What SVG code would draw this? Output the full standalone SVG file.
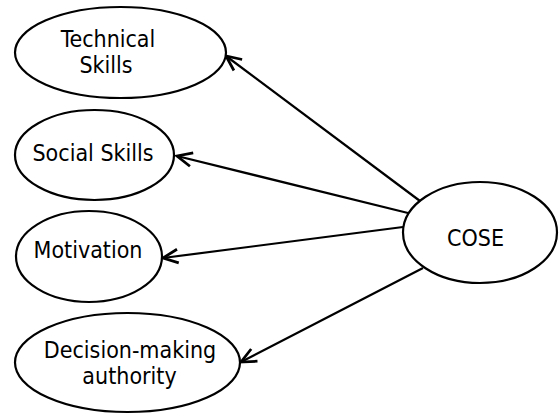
<svg xmlns="http://www.w3.org/2000/svg" width="559" height="414" viewBox="0 0 559 414">
<style>
.n{fill:#fff;stroke:#000;stroke-width:2.2}
.t{font-family:"DejaVu Sans Condensed","DejaVu Sans",sans-serif;font-stretch:condensed;font-size:23px;fill:#000;text-anchor:middle}
.c{stroke:#000;stroke-width:2.2;fill:none}
</style>
<defs>
<marker id="a" markerUnits="userSpaceOnUse" markerWidth="20" markerHeight="20" viewBox="-14 -8 16 16" refX="0" refY="0" orient="auto">
<path d="M-12,-5.5 L0,0 L-12,5.5" fill="none" stroke="#000" stroke-width="2.2"/>
</marker>
</defs>
<g id="connectors">
<line class="c" x1="420" y1="201" x2="226" y2="56" marker-end="url(#a)"/>
<line class="c" x1="408" y1="213" x2="177" y2="156" marker-end="url(#a)"/>
<line class="c" x1="403" y1="227" x2="163" y2="258" marker-end="url(#a)"/>
<line class="c" x1="423" y1="268" x2="241" y2="362" marker-end="url(#a)"/>
</g>
<g id="technical"><ellipse class="n" cx="120.5" cy="52.5" rx="105.5" ry="45.5"/><text class="t" x="108" y="47">Technical</text><text class="t" x="106" y="73">Skills</text></g>
<g id="social"><ellipse class="n" cx="94.5" cy="155" rx="79.5" ry="45"/><text class="t" x="93" y="161">Social Skills</text></g>
<g id="motivation"><ellipse class="n" cx="89" cy="256.5" rx="73" ry="45.5"/><text class="t" x="88" y="258">Motivation</text></g>
<g id="decision"><ellipse class="n" cx="127.5" cy="362.5" rx="112.5" ry="49.5"/><text class="t" x="130" y="358">Decision-making</text><text class="t" x="129.5" y="384">authority</text></g>
<g id="cose"><ellipse class="n" cx="480" cy="232.5" rx="77" ry="50.5"/><text class="t" x="475.5" y="246">COSE</text></g>
</svg>
